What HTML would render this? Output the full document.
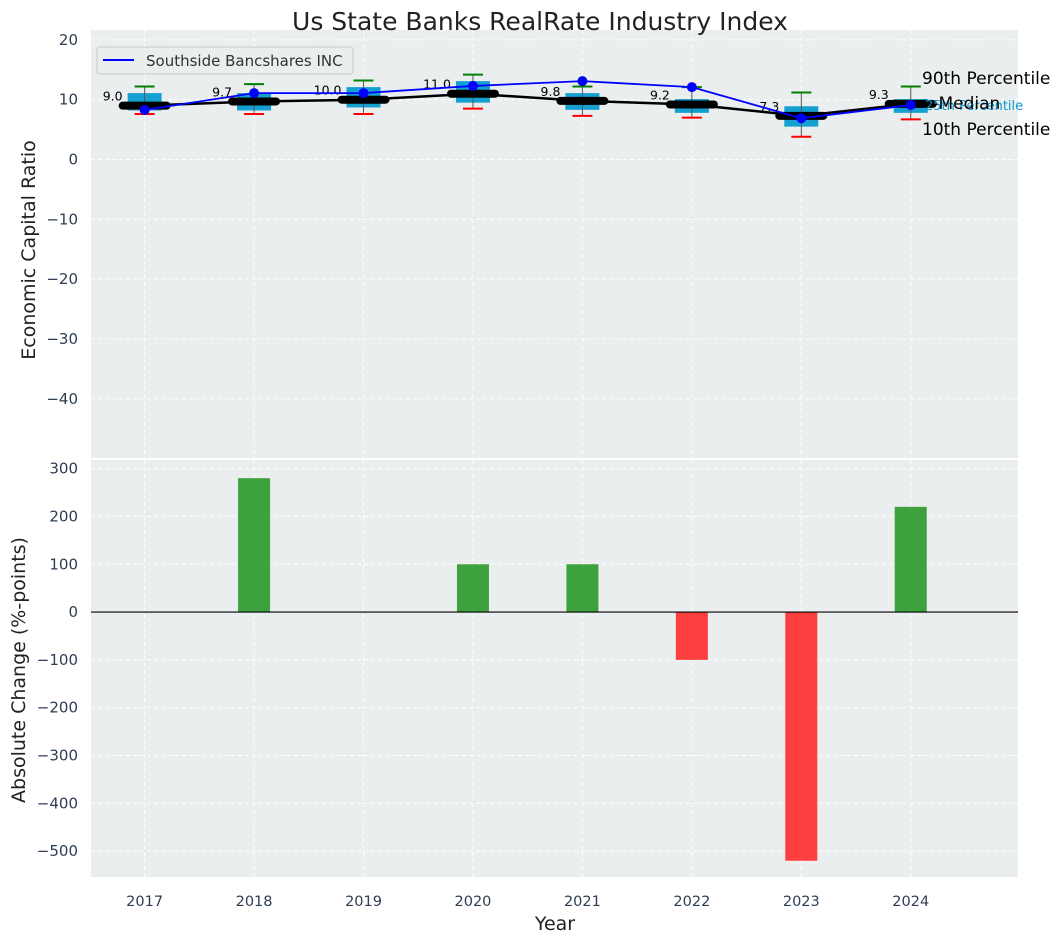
<!DOCTYPE html>
<html><head><meta charset="utf-8">
<style>
body{margin:0;background:#fff;font-family:"Liberation Sans","DejaVu Sans",sans-serif;}
svg text{font-family:"DejaVu Sans","Liberation Sans",sans-serif;}
</style></head>
<body>
<svg id="chart" width="1057" height="942" xmlns="http://www.w3.org/2000/svg"></svg>
<script>
const years = [2017,2018,2019,2020,2021,2022,2023,2024];
const medianVals = [9.0,9.7,10.0,11.0,9.8,9.2,7.3,9.3];
const companyVals = [8.3,11.1,11.1,12.3,13.1,12.1,6.9,9.1];
const p25Vals = [8.2,8.2,8.7,9.5,8.3,7.8,5.5,7.8];
const p75Vals = [11.1,11.1,12.1,13.1,11.1,10.1,8.9,10.1];
const p10Vals = [7.6,7.6,7.6,8.5,7.3,7.0,3.8,6.7];
const p90Vals = [12.2,12.6,13.2,14.2,12.2,12.1,11.2,12.2];
const changeVals = [0,280,0,100,100,-100,-520,220];
const topTicks = [20,10,0,-10,-20,-30,-40];
const botTicks = [300,200,100,0,-100,-200,-300,-400,-500];

const NS="http://www.w3.org/2000/svg";
const svg=document.getElementById('chart');
function el(tag,attrs,parent){const e=document.createElementNS(NS,tag);for(const k in attrs)e.setAttribute(k,attrs[k]);(parent||svg).appendChild(e);return e;}
const L=91,R=1018;
const xS=v=>L+(v-2016.51)/(2024.98-2016.51)*(R-L);
const T1=30,B1=458,T2=460,B2=877;
const yT=v=>T1+(21.65-v)/(21.65+49.9)*(B1-T1);
const yB=v=>T2+(318-v)/(318+554)*(B2-T2);

let bg=el('rect',{x:L,y:T1,width:R-L,height:B1-T1,fill:'#eaeeee'});

bg=el('rect',{x:L,y:T2,width:R-L,height:B2-T2,fill:'#eaeeee'});


let t=el('text',{x:540,y:30,'text-anchor':'middle','font-size':25,fill:'#222'});t.textContent='Us State Banks RealRate Industry Index';


const gx=el('g',{});
years.forEach(y=>{
  el('line',{x1:xS(y),x2:xS(y),y1:T1,y2:B1,stroke:'#fff','stroke-dasharray':'4,3','stroke-width':1},gx);
  el('line',{x1:xS(y),x2:xS(y),y1:T2,y2:B2,stroke:'#fff','stroke-dasharray':'4,3','stroke-width':1},gx);
  const tx=el('text',{x:xS(y),y:906,'text-anchor':'middle','font-size':14.5,fill:'#2e3e52'});tx.textContent=y;
  
});
topTicks.forEach(v=>{
  el('line',{x1:L,x2:R,y1:yT(v),y2:yT(v),stroke:'#fff','stroke-dasharray':'4,3'},gx);
  const tx=el('text',{x:L-13,y:yT(v)+5,'text-anchor':'end','font-size':15,fill:'#2e3e52'});tx.textContent=v<0?'\u2212'+(-v):v;
  
});
botTicks.forEach(v=>{
  el('line',{x1:L,x2:R,y1:yB(v),y2:yB(v),stroke:'#fff','stroke-dasharray':'4,3'},gx);
  const tx=el('text',{x:L-13,y:yB(v)+5,'text-anchor':'end','font-size':15,fill:'#2e3e52'});tx.textContent=v<0?'\u2212'+(-v):v;
  
});

t=el('text',{transform:'translate(35,250) rotate(-90)','text-anchor':'middle','font-size':19,fill:'#222'});t.textContent='Economic Capital Ratio';

t=el('text',{transform:'translate(25,670) rotate(-90)','text-anchor':'middle','font-size':19,fill:'#222'});t.textContent='Absolute Change (%-points)';

t=el('text',{x:555,y:930,'text-anchor':'middle','font-size':19,fill:'#222'});t.textContent='Year';


const gb=el('g',{});
years.forEach((y,i)=>{
  const x=xS(y);
  const b=el('rect',{x:x-17,y:yT(p75Vals[i]),width:34,height:yT(p25Vals[i])-yT(p75Vals[i]),fill:'#0a9bd0','fill-opacity':0.95},gb);
  
  el('line',{x1:x,x2:x,y1:yT(p90Vals[i]),y2:yT(p10Vals[i]),stroke:'#555','stroke-width':1},gb);
  el('line',{x1:x-10,x2:x+10,y1:yT(p90Vals[i]),y2:yT(p90Vals[i]),stroke:'green','stroke-width':2},gb);
  el('line',{x1:x-10,x2:x+10,y1:yT(p10Vals[i]),y2:yT(p10Vals[i]),stroke:'red','stroke-width':2},gb);
});
let pts=years.map((y,i)=>xS(y)+','+yT(medianVals[i])).join(' ');
let ml=el('polyline',{points:pts,fill:'none',stroke:'#000','stroke-width':2.5});

years.forEach((y,i)=>{
  const m=el('line',{x1:xS(y)-22,x2:xS(y)+22,y1:yT(medianVals[i]),y2:yT(medianVals[i]),stroke:'#000','stroke-width':8,'stroke-linecap':'round'});
  
  const lb=el('text',{x:xS(y)-22,y:yT(medianVals[i])-5,'text-anchor':'end','font-size':12.5,fill:'#000'});lb.textContent=medianVals[i].toFixed(1);
  
});
pts=years.map((y,i)=>xS(y)+','+yT(companyVals[i])).join(' ');
let cl=el('polyline',{points:pts,fill:'none',stroke:'blue','stroke-width':1.8});

years.forEach((y,i)=>{
  const c=el('circle',{cx:xS(y),cy:yT(companyVals[i]),r:5,fill:'blue'});
  
});
const ga=el('g',{'font-size':17,fill:'#000'});
t=el('text',{x:922,y:84},ga);t.textContent='90th Percentile';
t=el('text',{x:925,y:110,'font-size':13,fill:'#0a9bd0'},ga);t.textContent='25th Percentile';
t=el('text',{x:930,y:109},ga);t.textContent='\u2013Median';
t=el('text',{x:922,y:135},ga);t.textContent='10th Percentile';

const lg=el('g',{});
el('rect',{x:97,y:47,width:256,height:27,rx:3,fill:'#eaeeee',stroke:'#ccc'},lg);
el('line',{x1:103,x2:134,y1:60,y2:60,stroke:'blue','stroke-width':2},lg);
t=el('text',{x:146,y:66,'font-size':15,fill:'#333'},lg);t.textContent='Southside Bancshares INC';

const gbar=el('g',{});
years.forEach((y,i)=>{
  const v=changeVals[i];if(v===0)return;
  const y0=yB(0),y1=yB(v);
  const r=el('rect',{x:xS(y)-16,y:Math.min(y0,y1),width:32,height:Math.abs(y1-y0),fill:v>0?'#2e9a2e':'#ff3030','fill-opacity':0.92},gbar);
  
});
const zl=el('line',{x1:L,x2:R,y1:yB(0),y2:yB(0),stroke:'#000','stroke-width':1.2});

</script>
</body></html>
